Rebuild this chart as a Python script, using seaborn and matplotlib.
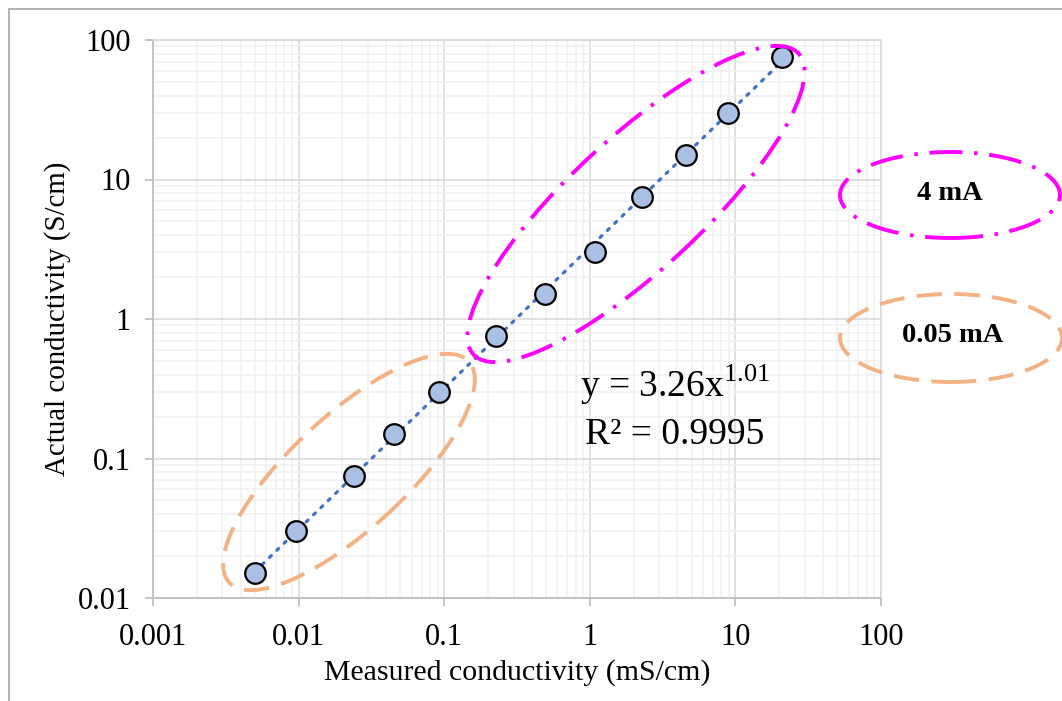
import numpy as np
import pandas as pd
import matplotlib
matplotlib.use("Agg")
import matplotlib.pyplot as plt
from matplotlib.patches import Ellipse
from matplotlib.lines import Line2D
from matplotlib.ticker import LogLocator, FixedLocator, FixedFormatter
import seaborn as sns

# ---- data ----
measured = [0.005, 0.0096, 0.024, 0.045, 0.092, 0.227, 0.49, 1.08, 2.28, 4.6, 8.9, 21.0]
actual = [0.015, 0.03, 0.075, 0.15, 0.3, 0.75, 1.5, 3.0, 7.5, 15.0, 30.0, 75.0]
fit_coef = 3.26
fit_exp = 1.01
r2 = 0.9995
x_ticks = [0.001, 0.01, 0.1, 1, 10, 100]
x_tick_labels = ["0.001", "0.01", "0.1", "1", "10", "100"]
y_ticks = [0.01, 0.1, 1, 10, 100]
y_tick_labels = ["0.01", "0.1", "1", "10", "100"]
group_labels = ["4 mA", "0.05 mA"]

sns.set_theme(style="white")
plt.rcParams['font.family'] = ['Liberation Serif', 'DejaVu Serif']
plt.rcParams['mathtext.fontset'] = 'custom'
plt.rcParams['mathtext.rm'] = 'Liberation Serif'
plt.rcParams['text.color'] = 'black'
plt.rcParams['axes.labelcolor'] = 'black'
plt.rcParams['xtick.labelcolor'] = 'black'
plt.rcParams['ytick.labelcolor'] = 'black'

W, H = 1062, 701
fig = plt.figure(figsize=(W / 100, H / 100), dpi=100)
fig.patch.set_facecolor("white")
ax = fig.add_axes([153 / W, 1 - 598 / H, 728 / W, 558 / H])

df = pd.DataFrame({"measured": measured, "actual": actual})
xs = np.array(measured)
fit_df = pd.DataFrame({"x": xs, "y": fit_coef * xs ** fit_exp})

ax.set_xscale("log")
ax.set_yscale("log")
ax.set_xlim(0.001, 100)
ax.set_ylim(0.01, 100)

# grid
ax.xaxis.set_major_locator(FixedLocator(x_ticks))
ax.xaxis.set_major_formatter(FixedFormatter(x_tick_labels))
ax.yaxis.set_major_locator(FixedLocator(y_ticks))
ax.yaxis.set_major_formatter(FixedFormatter(y_tick_labels))
ax.xaxis.set_minor_locator(LogLocator(base=10, subs=np.arange(2, 10)))
ax.yaxis.set_minor_locator(LogLocator(base=10, subs=np.arange(2, 10)))
ax.grid(True, which="minor", color="#f0f0f0", lw=1.1, zorder=0)
ax.grid(True, which="major", color="#d9d9d9", lw=1.1, zorder=0)
ax.set_axisbelow(True)

sns.lineplot(data=fit_df, x="x", y="y", ax=ax, color="#4472c4", lw=2.3,
             linestyle=(0, (0.8, 2.4)), dash_capstyle="round", zorder=2)
sns.scatterplot(data=df, x="measured", y="actual", ax=ax, s=220,
                color="#aabfe4", edgecolor="black", linewidth=1.6, zorder=3)

for side in ["top", "right"]:
    ax.spines[side].set_color("#d9d9d9")
    ax.spines[side].set_linewidth(1.1)
for side in ["left", "bottom"]:
    ax.spines[side].set_color("#bfbfbf")
    ax.spines[side].set_linewidth(1.3)

ax.tick_params(which="major", direction="out", length=6, width=1.3,
               color="#bfbfbf", labelsize=22, pad=10, left=True, bottom=True)
ax.tick_params(axis="x", which="major", pad=12)
ax.tick_params(which="minor", length=0)

ax.set_xlabel("Measured conductivity (mS/cm)", fontsize=21.5, labelpad=5)
ax.set_ylabel("Actual conductivity (S/cm)", fontsize=20.8, labelpad=5)

# equation text
ax.text(0.717, 0.382, r"y = %.2fx$^{%.2f}$" % (fit_coef, fit_exp),
        transform=ax.transAxes, fontsize=27, ha="center", va="center")
ax.text(0.717, 0.292, "R² = %.4f" % r2,
        transform=ax.transAxes, fontsize=27, ha="center", va="center")

# ellipses in pixel coordinates (y from top)
def px_ellipse(cx, cy, w, h, ang, color, ls):
    e = Ellipse((cx / 100, (H - cy) / 100), w / 100, h / 100, angle=ang,
                transform=fig.dpi_scale_trans, fill=False, edgecolor=color,
                lw=2.8, linestyle=ls, clip_on=False, zorder=5)
    fig.add_artist(e)

magenta = "#ff00ff"
orange = "#f4b183"
dashdot = (0, (8.5, 3, 0.9, 3))
dashed = (0, (6.5, 3.2))

px_ellipse(636, 204, 443, 132, 42.8, magenta, dashdot)
px_ellipse(349, 472, 326, 114, 42.7, orange, dashed)
px_ellipse(950, 195, 220, 86, 0, magenta, dashdot)
px_ellipse(951, 338, 222, 88, 0, orange, dashed)

fig.text(950 / W, 1 - 193 / H, group_labels[0], fontsize=20.5, fontweight="bold",
         ha="center", va="center")
fig.text(953 / W, 1 - 336 / H, group_labels[1], fontsize=20.5, fontweight="bold",
         ha="center", va="center")

# outer border (left and top)
fig.add_artist(Line2D([9 / W, 9 / W], [0, 1 - 9 / H], transform=fig.transFigure,
                      color="#a6a6a6", lw=1.2))
fig.add_artist(Line2D([9 / W, 1], [1 - 9 / H, 1 - 9 / H], transform=fig.transFigure,
                      color="#a6a6a6", lw=1.2))

fig.savefig("out.png", dpi=100)
